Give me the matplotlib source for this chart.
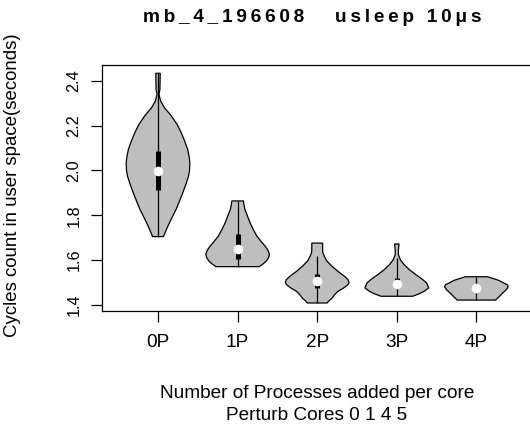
import numpy as np
import matplotlib.pyplot as plt

plt.rcParams['font.family'] = ['Liberation Sans', 'DejaVu Sans']

groups = ["0P", "1P", "2P", "3P", "4P"]

# box stats
q1 = [1.913, 1.604, 1.476, 1.476, 1.470]
q3 = [2.088, 1.715, 1.538, 1.520, 1.490]
medians = [1.999, 1.648, 1.506, 1.494, 1.477]
whisk_lo = [1.705, 1.571, 1.409, 1.439, 1.422]
whisk_hi = [2.433, 1.864, 1.617, 1.610, 1.526]

# violin outline: y levels and relative half width (1 = widest)
prof_y = [
    [2.433, 2.36, 2.34, 2.31, 2.28, 2.243, 2.205, 2.168, 2.13, 2.094, 2.06, 2.034,
     2.00, 1.975, 1.94, 1.901, 1.865, 1.827, 1.79, 1.752, 1.725, 1.705],
    [1.864, 1.83, 1.80, 1.767, 1.74, 1.708, 1.685, 1.663, 1.645, 1.626, 1.61,
     1.596, 1.583, 1.571],
    [1.676, 1.645, 1.632, 1.615, 1.595, 1.572, 1.55, 1.53, 1.513, 1.50, 1.49,
     1.475, 1.461, 1.445, 1.431, 1.42, 1.409],
    [1.672, 1.645, 1.624, 1.60, 1.58, 1.557, 1.535, 1.515, 1.498, 1.476, 1.461,
     1.45, 1.439],
    [1.526, 1.51, 1.49, 1.482, 1.47, 1.45, 1.435, 1.422],
]
prof_w = [
    [0.07, 0.06, 0.03, 0.08, 0.20, 0.42, 0.60, 0.73, 0.84, 0.93, 0.98, 1.0,
     0.99, 0.96, 0.88, 0.78, 0.68, 0.57, 0.44, 0.31, 0.23, 0.17],
    [0.18, 0.22, 0.30, 0.39, 0.48, 0.60, 0.73, 0.86, 0.95, 1.0, 0.97, 0.90,
     0.80, 0.68],
    [0.17, 0.17, 0.18, 0.23, 0.31, 0.47, 0.65, 0.84, 0.97, 1.0, 0.96, 0.82,
     0.65, 0.54, 0.47, 0.38, 0.31],
    [0.07, 0.05, 0.05, 0.12, 0.23, 0.40, 0.60, 0.80, 0.94, 1.0, 0.86, 0.70, 0.50],
    [0.35, 0.70, 0.97, 1.0, 0.95, 0.80, 0.70, 0.60],
]

fig = plt.figure(figsize=(5.3, 4.28), dpi=100)
ax = fig.add_axes([102.3 / 530, 1 - 310.7 / 428, 429.8 / 530, 245.7 / 428])

half = 0.4
for i in range(len(groups)):
    x = i + 1
    y = np.array(prof_y[i])
    w = np.array(prof_w[i]) * half
    xs = np.concatenate([x - w, (x + w)[::-1]])
    ys = np.concatenate([y, y[::-1]])
    ax.fill(xs, ys, facecolor="#bebebe", edgecolor="black", lw=0.9, zorder=2)
    ax.vlines(x, whisk_lo[i], whisk_hi[i], color="black", lw=0.9, zorder=3)
    ax.vlines(x, q1[i], q3[i], color="black", lw=3.6, zorder=4,
              capstyle="butt")
    ax.scatter([x], [medians[i]], s=48, color="white", zorder=5, lw=0)

ax.set_xlim(0.3, 5.7)
ax.set_ylim(1.3746, 2.47)
ax.set_xticks(range(1, len(groups) + 1))
ax.set_xticklabels(groups)
ax.set_yticks([1.4, 1.6, 1.8, 2.0, 2.2, 2.4])
ax.set_yticklabels(["1.4", "1.6", "1.8", "2.0", "2.2", "2.4"],
                   rotation=90, va="center")
ax.tick_params(length=8, width=0.9, color="black")
ax.tick_params(axis="x", labelsize=13.7, pad=9)
ax.tick_params(axis="y", labelsize=11.7, pad=7)
for s in ax.spines.values():
    s.set_linewidth(0.9)

# R output was stretched sideways, so the title gets a little tracking
title = "\u2009".join("mb_4_196608   usleep 10μs")
fig.text(312 / 530, 1 - 18 / 428, title,
         ha="center", va="center", fontsize=13.7, fontweight="bold")
fig.text(12.5 / 530, 1 - 185 / 428, "Cycles count in user space(seconds)",
         ha="center", va="center", rotation=90, fontsize=13.4)
fig.text(317 / 530, 1 - 393 / 428, "Number of Processes added per core",
         ha="center", va="center", fontsize=13.7)
fig.text(317 / 530, 1 - 416 / 428, "Perturb Cores 0 1 4 5",
         ha="center", va="center", fontsize=13.7)

fig.savefig("out.png", dpi=100)
